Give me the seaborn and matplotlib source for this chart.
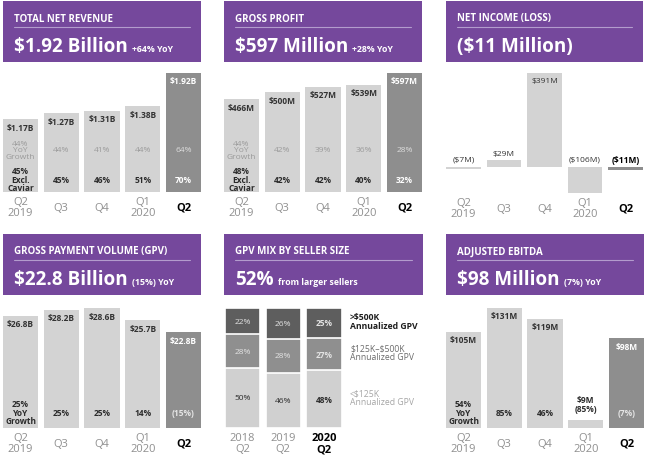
import numpy as np
import seaborn as sns
import matplotlib.pyplot as plt
from matplotlib.patches import Rectangle
from matplotlib.lines import Line2D

# ---- data ----
quarters = ["Q2\n2019", "Q3", "Q4", "Q1\n2020", "Q2"]

revenue = [1.17, 1.27, 1.31, 1.38, 1.92]
revenue_labels = ["$1.17B", "$1.27B", "$1.31B", "$1.38B", "$1.92B"]
revenue_growth = ["44%\nYoY\nGrowth", "44%", "41%", "44%", "64%"]
revenue_excl = ["45%\nExcl.\nCaviar", "45%", "46%", "51%", "70%"]

gross_profit = [466, 500, 527, 539, 597]
gp_labels = ["$466M", "$500M", "$527M", "$539M", "$597M"]
gp_growth = ["44%\nYoY\nGrowth", "42%", "39%", "36%", "28%"]
gp_excl = ["48%\nExcl.\nCaviar", "42%", "42%", "40%", "32%"]

net_income = [-7, 29, 391, -106, -11]
ni_labels = ["($7M)", "$29M", "$391M", "($106M)", "($11M)"]

gpv = [26.8, 28.2, 28.6, 25.7, 22.8]
gpv_labels = ["$26.8B", "$28.2B", "$28.6B", "$25.7B", "$22.8B"]
gpv_growth = ["25%\nYoY\nGrowth", "25%", "25%", "14%", "(15%)"]

mix_years = ["2018\nQ2", "2019\nQ2", "2020\nQ2"]
mix_small = [50, 46, 48]
mix_mid = [28, 28, 27]
mix_large = [22, 26, 25]
mix_legend = [">$500K\nAnnualized GPV", "$125K–$500K\nAnnualized GPV", "<$125K\nAnnualized GPV"]

ebitda = [105, 131, 119, 9, 98]
ebitda_labels = ["$105M", "$131M", "$119M", "$9M", "$98M"]
ebitda_growth = ["54%\nYoY\nGrowth", "85%", "46%", "(85%)", "(7%)"]

headers = [
    ("TOTAL NET REVENUE", "$1.92 Billion", "+64% YoY"),
    ("GROSS PROFIT", "$597 Million", "+28% YoY"),
    ("NET INCOME (LOSS)", "($11 Million)", ""),
    ("GROSS PAYMENT VOLUME (GPV)", "$22.8 Billion", "(15%) YoY"),
    ("GPV MIX BY SELLER SIZE", "52%", "from larger sellers"),
    ("ADJUSTED EBITDA", "$98 Million", "(7%) YoY"),
]

PURPLE = "#75489c"
LIGHT = "#d3d3d3"
DARK = "#8e8e8e"
TICK_GRAY = "#8f8f8f"

sns.set_style("white")
plt.rcParams["font.family"] = ["Open Sans", "DejaVu Sans"]
plt.rcParams["text.parse_math"] = False  # dollar signs are plain text here

W, H = 646, 464
fig = plt.figure(figsize=(W / 100, H / 100), dpi=100)
renderer = fig.canvas.get_renderer()


def fx(x):
    return x / W


def fy(y):
    return 1 - y / H


def px_axes(x0, y0, x1, y1):
    return fig.add_axes([fx(x0), fy(y1), (x1 - x0) / W, (y1 - y0) / H])


def draw_header(x0, y0, x1, title, big, small):
    fig.add_artist(Rectangle((fx(x0), fy(y0 + 61)), (x1 - x0) / W, 61 / H,
                             transform=fig.transFigure, color=PURPLE, lw=0))
    fig.text(fx(x0 + 11), fy(y0 + 17), title, color="white", fontsize=7,
             fontweight="bold", va="center")
    fig.add_artist(Line2D([fx(x0 + 11), fx(x1 - 11)], [fy(y0 + 26)] * 2,
                          transform=fig.transFigure, color="#b39ccd", lw=0.8))
    t = fig.text(fx(x0 + 11), fy(y0 + 50), big, color="white", fontsize=13.6,
                 fontweight="bold", va="baseline")
    if small:
        bb = t.get_window_extent(renderer)
        fig.text(bb.x1 / W + 4 / W, fy(y0 + 50), small, color="white",
                 fontsize=6.3, fontweight="bold", va="baseline")


def style_axis(ax, n):
    ax.set_xlim(-0.43, n - 1 + 0.43)
    sns.despine(ax=ax, left=True, bottom=True)
    ax.set_yticks([])
    ax.set_ylabel("")
    ax.set_xlabel("")
    labels = ax.get_xticklabels()
    for i, lbl in enumerate(labels):
        lbl.set_fontsize(8)
        lbl.set_linespacing(1.0)
        lbl.set_color(TICK_GRAY)
        lbl.set_verticalalignment("center")
        if i == len(labels) - 1:
            lbl.set_color("black")
            lbl.set_fontweight("bold")
    ax.tick_params(axis="x", length=0, pad=11)


def bars(ax, cats, vals):
    colors = [LIGHT] * (len(cats) - 1) + [DARK]
    sns.barplot(x=cats, y=vals, hue=cats, palette=colors, legend=False,
                width=0.86, saturation=1, ax=ax, edgecolor="none")
    style_axis(ax, len(cats))


def top_labels(ax, vals, labels):
    for i, (v, lab) in enumerate(zip(vals, labels)):
        last = i == len(vals) - 1
        ax.annotate(lab, xy=(i, v), xytext=(0, -8), textcoords="offset pixels",
                    ha="center", va="center", fontsize=6, fontweight="bold",
                    color="white" if last else "#333333")


def row_labels(ax, texts, yfrac, light_color, dark_color, bold):
    for i, s in enumerate(texts):
        last = i == len(texts) - 1
        ax.text(i, yfrac, s, transform=ax.get_xaxis_transform(), ha="center",
                va="center", fontsize=6, linespacing=0.95,
                fontweight="bold" if bold else "normal",
                color=dark_color if last else light_color)


# ---- headers ----
top_row = [(3, 201), (224, 422), (446, 643)]
bot_row = [(3, 201), (224, 423), (446, 644)]
for (x0, x1), h in zip(top_row, headers[:3]):
    draw_header(x0, 2, x1, *h)
for (x0, x1), h in zip(bot_row, headers[3:]):
    draw_header(x0, 235, x1, *h)

# ---- total net revenue ----
ax1 = px_axes(3, 74, 201, 193)
bars(ax1, quarters, revenue)
ax1.set_ylim(0, max(revenue))
top_labels(ax1, revenue, revenue_labels)
row_labels(ax1, revenue_growth, 0.353, "#9b9b9b", "#dddddd", False)
row_labels(ax1, revenue_excl, 0.109, "#2b2b2b", "white", True)

# ---- gross profit ----
ax2 = px_axes(224, 74, 422, 193)
bars(ax2, quarters, gross_profit)
ax2.set_ylim(0, max(gross_profit))
top_labels(ax2, gross_profit, gp_labels)
row_labels(ax2, gp_growth, 0.353, "#9b9b9b", "#dddddd", False)
row_labels(ax2, gp_excl, 0.109, "#2b2b2b", "white", True)

# ---- net income ----
ax3 = px_axes(446, 74, 643, 194)
bars(ax3, quarters, net_income)
ax3.set_ylim(min(net_income), max(net_income))
for i, (v, lab) in enumerate(zip(net_income, ni_labels)):
    last = i == len(net_income) - 1
    inside = v > 0.5 * max(net_income)
    off = -8 if inside else (7 if v > 0 else 8)
    ax3.annotate(lab, xy=(i, max(v, 0)), xytext=(0, off),
                 textcoords="offset pixels", ha="center", va="center",
                 fontsize=6, fontweight="bold" if last else "normal",
                 color="black" if last else "#333333")

# ---- gpv ----
ax4 = px_axes(3, 309, 201, 429)
bars(ax4, quarters, gpv)
ax4.set_ylim(0, max(gpv))
top_labels(ax4, gpv, gpv_labels)
row_labels(ax4, gpv_growth, 0.133, "#2b2b2b", "#e6e6e6", True)

# ---- gpv mix (stacked, drawn as cumulative overlays) ----
ax5 = px_axes(225, 309, 341.5, 429)
stack = np.vstack([mix_small, mix_mid, mix_large])
cum = stack.cumsum(axis=0)
mix_colors = ["#d0d0d0", "#8f8f8f", "#5e5e5e"]
for level in [2, 1, 0]:
    sns.barplot(x=mix_years, y=cum[level], color=mix_colors[level], width=0.86,
                saturation=1, ax=ax5, edgecolor="white", linewidth=1.2)
ax5.set_ylim(0, cum[-1].max())
style_axis(ax5, len(mix_years))
txt_cols = ["#2b2b2b", "#e3e3e3", "#e3e3e3"]
for level in range(3):
    mids = cum[level] - stack[level] / 2
    for i, (m, val) in enumerate(zip(mids, stack[level])):
        ax5.text(i, m, f"{val}%", ha="center", va="center", fontsize=6,
                 color=txt_cols[level],
                 fontweight="bold" if i == len(mix_years) - 1 else "normal")
leg_cols = ["#1e1e1e", "#6b6b6b", "#a5a5a5"]
for level, lab in zip([2, 1, 0], mix_legend):
    m = cum[level][-1] - stack[level][-1] / 2
    ax5.text(2.64, m + 1.5, lab, ha="left", va="center", fontsize=6.2,
             linespacing=1.0, color=leg_cols[2 - level], clip_on=False,
             fontweight="bold" if level == 2 else "normal")

# ---- adjusted ebitda ----
ax6 = px_axes(446, 309, 644, 429)
bars(ax6, quarters, ebitda)
ax6.set_ylim(0, max(ebitda))
for i, (v, lab, g) in enumerate(zip(ebitda, ebitda_labels, ebitda_growth)):
    last = i == len(ebitda) - 1
    if v < 0.2 * max(ebitda):
        ax6.text(i, 0.2, lab + "\n" + g, transform=ax6.get_xaxis_transform(),
                 ha="center", va="center", fontsize=6, fontweight="bold",
                 linespacing=1.1, color="#2b2b2b")
        continue
    ax6.annotate(lab, xy=(i, v), xytext=(0, -8), textcoords="offset pixels",
                 ha="center", va="center", fontsize=6, fontweight="bold",
                 color="white" if last else "#333333")
    ax6.text(i, 0.133, g, transform=ax6.get_xaxis_transform(), ha="center",
             va="center", fontsize=6, linespacing=0.95, fontweight="bold",
             color="#e6e6e6" if last else "#2b2b2b")

fig.savefig("out.png", dpi=100)
